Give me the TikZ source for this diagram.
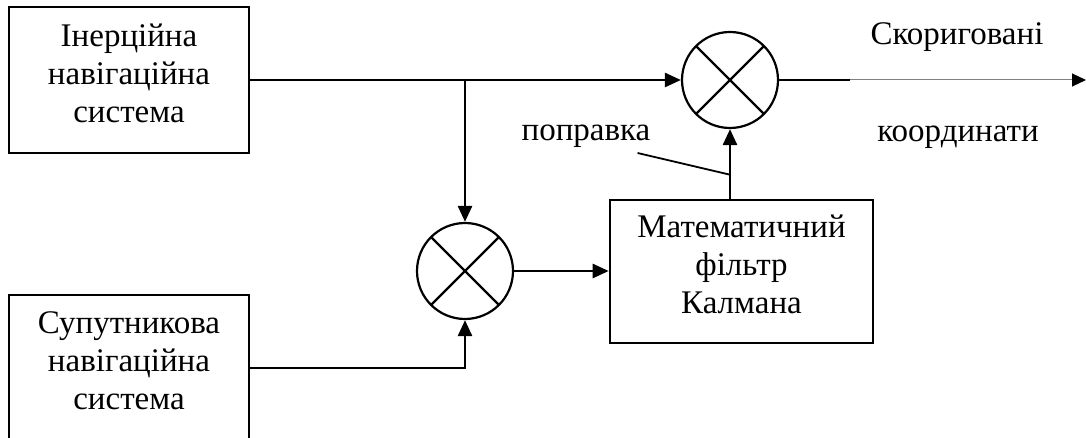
\documentclass[tikz,border=0pt]{standalone}
\usepackage{fontspec}
\setmainfont{Liberation Serif}
\usetikzlibrary{arrows.meta,positioning,calc}

\begin{document}
\begin{tikzpicture}[x=1pt,y=-1pt,
  blk/.style={draw,line width=2.6pt,minimum width=240pt,minimum height=146pt,inner sep=0pt},
  txt/.style={align=center,font=\fontsize{33}{38}\selectfont,inner sep=0pt},
  sum/.style={draw,circle,line width=2.2pt,minimum size=96pt,inner sep=0pt,
    path picture={\draw[line width=2.2pt] (path picture bounding box.north west) -- (path picture bounding box.south east)
      (path picture bounding box.north east) -- (path picture bounding box.south west);}},
  conn/.style={line width=2.6pt},
  >={Triangle[length=16pt,width=14pt]}]
\clip (0,0) rectangle (1086,438);
\node[blk] (ins) at (129,80) {};
\node[txt] (insT) at ($(ins)+(0,-7)$) {Інерційна\\навігаційна\\система};
\node[blk] (sat) at (129,368) {};
\node[txt] (satT) at ($(sat)+(0,-7)$) {Супутникова\\навігаційна\\система};
\node[sum] (sumB) at (465,271) {};
\node[sum] (sumT) at (730,80) {};
\node[blk,minimum width=263pt,minimum height=143pt] (kal) at (741.5,271.5) {};
\node[txt] (kalT) at ($(kal)+(0,-7)$) {Математичний\\фільтр\\Калмана};
\coordinate (br) at (sumB |- ins);
\draw[conn,->] (ins.east) -- (sumT.west);
\draw[conn,->] (br) -- (sumB.north);
\draw[conn,->] (sat.east) -| (sumB.south);
\draw[conn,->] (sumB.east) -- (sumB.east -| kal.west);
\draw[conn,->] (kal.north -| sumT) -- (sumT.south);
% output
\coordinate (outA) at (850,80);
\coordinate (outB) at (1086,80);
\draw[conn] (sumT.east) -- (outA);
\draw[line width=1pt,gray,-{Triangle[length=14pt,width=13pt,black]}] (outA) -- (outB);
\node[txt,anchor=base] (corr1) at (957,45) {Скориговані};
\node[txt,anchor=base] (corr2) at (958,142) {координати};
% correction label
\node[txt,anchor=base] (note) at (586,141) {поправка};
\coordinate (noteStart) at ($(note.base east)+(-13,12)$);
\coordinate (noteEnd) at ($(kal.north -| sumT)+(0,-24)$);
\draw[line width=1.8pt] (noteStart) -- (noteEnd);
\end{tikzpicture}
\end{document}
